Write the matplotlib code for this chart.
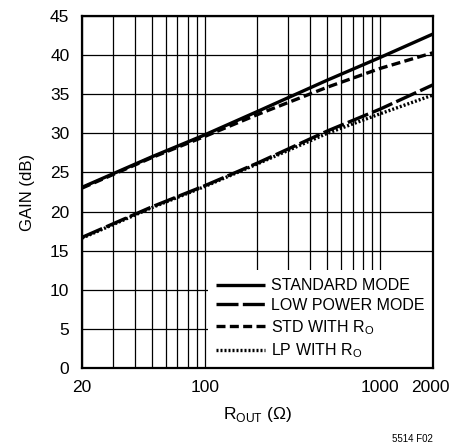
import matplotlib
matplotlib.use('Agg')
import matplotlib.pyplot as plt
from matplotlib import font_manager
from matplotlib.transforms import ScaledTranslation

names = {f.name for f in font_manager.fontManager.ttflist}
fam = 'Liberation Sans Narrow' if 'Liberation Sans Narrow' in names else 'Liberation Sans'
plt.rcParams['font.family'] = [fam, 'DejaVu Sans']
plt.rcParams['mathtext.fontset'] = 'custom'
plt.rcParams['mathtext.rm'] = fam

# data
r_out = [20, 50, 100, 200, 500, 1000, 2000]
std_mode = [23.1, 27.0, 29.8, 32.8, 36.8, 39.7, 42.7]
lp_mode = [16.7, 20.6, 23.3, 26.2, 30.3, 33.1, 36.2]
std_ro = [23.0, 26.9, 29.6, 32.4, 35.9, 38.3, 40.3]
lp_ro = [16.6, 20.5, 23.2, 26.1, 30.0, 32.5, 34.9]

xticks = [20, 100, 1000, 2000]
xgrid = [30, 40, 50, 60, 70, 80, 90, 200, 300, 400, 500, 600, 700, 800, 900]
yticks = list(range(0, 46, 5))

fig = plt.figure(figsize=(4.51, 4.46), dpi=100)
ax = fig.add_axes([0.1818, 0.1749, 0.7782, 0.7892])

lw = 2.4
ax.plot(r_out, std_mode, color='black', lw=lw, solid_capstyle='butt', label='STANDARD MODE')
ax.plot(r_out, lp_mode, color='black', lw=lw, dashes=(6.6, 1.3), label='LOW POWER MODE')
ax.plot(r_out, std_ro, color='black', lw=lw, dashes=(2.7, 1.3), label='STD WITH R$_\\mathrm{O}$')
ax.plot(r_out, lp_ro, color='black', lw=lw, dashes=(0.6, 0.6), label='LP WITH R$_\\mathrm{O}$')

ax.set_xscale('log')
ax.set_xlim(20, 2000)
ax.set_ylim(0, 45)
ax.set_xticks(xticks)
ax.set_xticklabels([str(v) for v in xticks])
ax.set_xticks(xgrid, minor=True)
ax.set_xticklabels([], minor=True)
ax.set_yticks(yticks)
ax.tick_params(which='both', length=0, labelsize=12.5)
ax.tick_params(axis='x', pad=9)
ax.tick_params(axis='y', pad=9)
ax.grid(True, which='both', color='black', lw=0.9)
for s in ax.spines.values():
    s.set_linewidth(1.6)
    s.set_zorder(6)

# keep the last x label inside the figure
last = ax.get_xticklabels()[-1]
last.set_transform(last.get_transform() + ScaledTranslation(-3 / 100, 0, fig.dpi_scale_trans))

ax.set_ylabel('GAIN (dB)', fontsize=12, labelpad=11)
ax.set_xlabel('R$_\\mathrm{OUT}$ ($\\Omega$)', fontsize=12.5, labelpad=7)

leg = ax.legend(loc='lower right', fontsize=11.5, frameon=True, fancybox=False,
                handlelength=3.1, handletextpad=0.4, labelspacing=0.3,
                borderaxespad=0.0, borderpad=0.5)
leg.get_frame().set_edgecolor('none')
leg.get_frame().set_facecolor('white')
leg.get_frame().set_alpha(1)

fig.text(0.96, 0.005, '5514 F02', fontsize=7, ha='right', va='bottom')

fig.savefig('out.png', dpi=100)
